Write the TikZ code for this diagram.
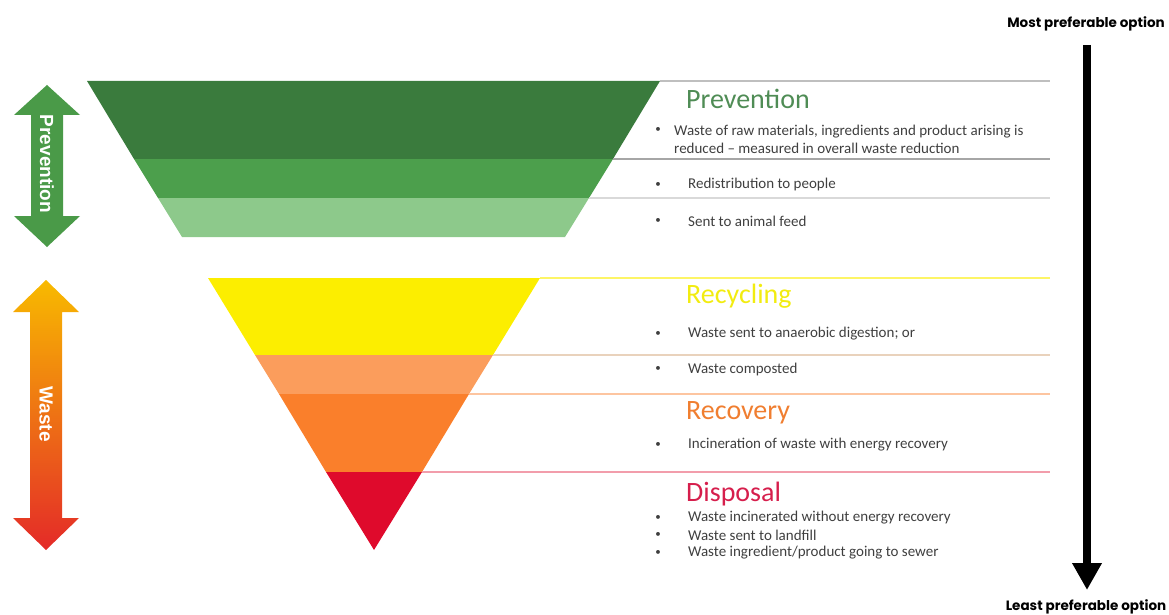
\documentclass[tikz,border=0pt]{standalone}
\usepackage{fontspec}
\setmainfont{Carlito}
\newfontfamily\arrowfont{Liberation Sans}
\newfontfamily\preffont{Poppins}
\usetikzlibrary{arrows.meta}
\definecolor{gdark}{HTML}{3A7B3D}
\definecolor{gmid}{HTML}{4C9F4C}
\definecolor{glight}{HTML}{8DC98B}
\definecolor{garrow}{HTML}{4A9A48}
\definecolor{ryellow}{HTML}{FCEE00}
\definecolor{rlorange}{HTML}{FB9D5C}
\definecolor{rorange}{HTML}{FA7F2B}
\definecolor{rred}{HTML}{DF0A2C}
\definecolor{wtop}{HTML}{F8BA00}
\definecolor{wmid}{HTML}{FA7E20}
\definecolor{wbot}{HTML}{E42A28}
\definecolor{txtgray}{HTML}{3F3F3F}
\definecolor{tprev}{HTML}{4F8C55}
\definecolor{trec}{HTML}{F2EC10}
\definecolor{trecov}{HTML}{F07E30}
\definecolor{tdisp}{HTML}{D61E4C}

\begin{document}
\begin{tikzpicture}[x=1pt,y=-1pt,
  body/.style={anchor=west,inner sep=0pt,text=txtgray,font=\fontsize{15}{18}\selectfont},
  bul/.style={inner sep=0pt,text=txtgray,font=\fontsize{11}{13}\selectfont},
  title/.style={anchor=west,inner sep=0pt,font=\fontsize{28}{30}\selectfont},
  sep/.style={line width=1.2pt},
  arrowlbl/.style={rotate=-90,inner sep=0pt,text=white,font=\arrowfont\bfseries\fontsize{19}{20}\selectfont},
  pref/.style={inner sep=0pt,font=\preffont\bfseries\fontsize{13.5}{15}\selectfont},
  bigarrow/.style={line width=8pt,-{Triangle[width=28pt,length=27pt]}}]
\useasboundingbox (0,0) rectangle (1169,615);

\fill[gdark] (87,81) -- (660,81) -- (613,159) -- (134,159) -- cycle;
\fill[gmid] (134,159) -- (613,159) -- (589,198) -- (158,198) -- cycle;
\fill[glight] (158,198) -- (589,198) -- (565,237) -- (182,237) -- cycle;

\fill[ryellow] (208,278) -- (540,278) -- (493,355) -- (255,355) -- cycle;
\fill[rlorange] (255,355) -- (493,355) -- (469,394) -- (279,394) -- cycle;
\fill[rorange] (279,394) -- (469,394) -- (422,472) -- (326,472) -- cycle;
\fill[rred] (326,472) -- (422,472) -- (374,550) -- cycle;

\draw[sep,black!25] (660,81) -- (1050,81);
\draw[sep,black!35] (613,159) -- (1050,159);
\draw[sep,black!15] (589,198) -- (1050,198);
\draw[sep,ryellow!60] (540,278) -- (1050,278);
\draw[sep,brown!35] (493,355) -- (1050,355);
\draw[sep,rorange!45] (469,394) -- (1050,394);
\draw[sep,rred!40] (422,472) -- (1050,472);

\fill[garrow] (47,85) -- (80,115) -- (63,115) -- (63,216) -- (80,216) -- (47,247)
  -- (14,216) -- (31,216) -- (31,115) -- (14,115) -- cycle;
\node[arrowlbl] (prevarrow) at (47,164) {Prevention};
\shade[top color=wtop,middle color=wmid,bottom color=wbot] (46,280) -- (79,312) -- (62,312)
  -- (62,518) -- (79,518) -- (46,550) -- (13,518) -- (30,518) -- (30,312) -- (13,312) -- cycle;
\node[arrowlbl] (wastearrow) at (46,414) {Waste};

\node[title,text=tprev] (prevtitle) at (686,99) {Prevention};
\node[bul] (b1) at (658,130) {•};
\node[body,align=left] (raw) at (674,139) {Waste of raw materials, ingredients and product arising is\\reduced – measured in overall waste reduction};
\node[bul] (b2) at (658,185) {•};
\node[body] (redist) at (688,185) {Redistribution to people};
\node[bul] (b3) at (658,221) {•};
\node[body] (feed) at (688,221) {Sent to animal feed};

\node[title,text=trec] (rectitle) at (686,296) {Recycling};
\node[bul] (b4) at (658,334) {•};
\node[body] (ad) at (688,334) {Waste sent to anaerobic digestion; or};
\node[bul] (b5) at (658,369) {•};
\node[body] (compost) at (688,369) {Waste composted};

\node[title,text=trecov] (recovtitle) at (686,413) {Recovery};
\node[bul] (b6) at (658,445) {•};
\node[body] (incin) at (688,445) {Incineration of waste with energy recovery};

\node[title,text=tdisp] (disptitle) at (686,494) {Disposal};
\foreach \y/\t [count=\i] in {518/{Waste incinerated without energy recovery},535/{Waste sent to landfill},553/{Waste ingredient/product going to sewer}}{
  \node[bul] (db\i) at (658,\y) {•};
  \node[body] (d\i) at (688,\y) {\t};
}

\node[pref] (most) at (1086,24) {Most preferable option};
\node[pref] (least) at (1086,607) {Least preferable option};
\coordinate (ptop) at (1087,45);
\coordinate (pbot) at (1087,590);
\draw[bigarrow] (ptop) -- (pbot);
\end{tikzpicture}
\end{document}
